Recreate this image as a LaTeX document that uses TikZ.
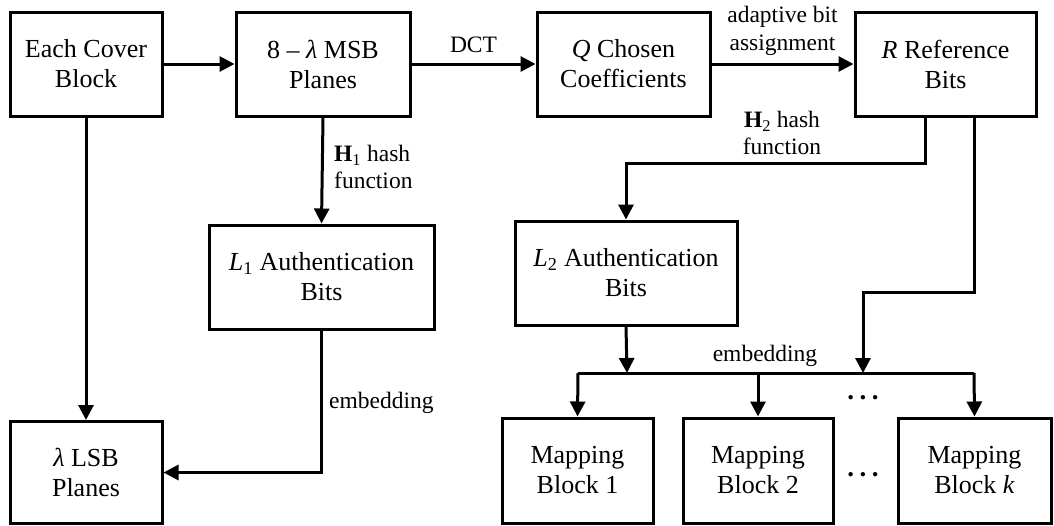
\documentclass[tikz,border=0pt]{standalone}
\usepackage{fontspec}
\setmainfont{Liberation Serif}
\usetikzlibrary{arrows.meta}
\tikzset{
  blk/.style={draw, line width=3pt, align=center, inner sep=0pt,
    font=\fontsize{26}{30}\selectfont},
  lbl/.style={font=\fontsize{23.5}{27.5}\selectfont, inner sep=0pt},
  flow/.style={line width=3pt, -{Triangle[length=15pt,width=15pt]}},
  wire/.style={line width=3pt},
  dotrow/.style={font=\fontsize{27}{30}\selectfont\bfseries, inner sep=0pt, anchor=base},
}
\newcommand{\spreaddots}{.\kern5.5pt.\kern5.5pt.}
\begin{document}
\begin{tikzpicture}[x=1pt,y=-1pt]
\useasboundingbox (0,0) rectangle (1054,525);

% top row
\node[blk, minimum width=152pt, minimum height=104pt] (cover) at (86,64) {Each Cover\\Block};
\node[blk, minimum width=174pt, minimum height=104pt] (msb) at (323,64) {8 – \textit{λ} MSB\\Planes};
\node[blk, minimum width=173pt, minimum height=104pt] (coef) at (623.5,64) {\textit{Q} Chosen\\Coefficients};
\node[blk, minimum width=181pt, minimum height=104pt] (ref) at (945.5,64) {\textit{R} Reference\\Bits};

% middle row
\node[blk, minimum width=225pt, minimum height=104pt] (auth1) at (321.5,277) {\textit{L}\textsubscript{1} Authentication\\Bits};
\node[blk, minimum width=222pt, minimum height=104pt] (auth2) at (626,273) {\textit{L}\textsubscript{2} Authentication\\Bits};

% bottom row
\node[blk, minimum width=152pt, minimum height=102pt] (lsb) at (86,472.5) {\textit{λ} LSB\\Planes};
\node[blk, minimum width=151pt, minimum height=105pt] (map1) at (577.5,470.5) {Mapping\\Block 1};
\node[blk, minimum width=150pt, minimum height=105pt] (map2) at (758,470.5) {Mapping\\Block 2};
\node[blk, minimum width=153pt, minimum height=105pt] (mapk) at (974.5,470.5) {Mapping\\Block \textit{k}};

% horizontal chain
\draw[flow] (cover.east) -- (msb.west);
\draw[flow] (msb.east) -- node[lbl, above=10pt] (dct) {DCT} (coef.west);
\draw[flow] (coef.east) -- node[lbl, above=7pt, align=center] (aba) {adaptive bit\\assignment} (ref.west);

% hash H1 and LSB embedding
\draw[flow] (msb.south) -- (auth1.north);
\node[lbl, align=left, anchor=west] (h1) at (334,167) {\textbf{H}\textsubscript{1} hash\\function};
\draw[flow] (cover.south) -- (lsb.north);
\draw[flow] (auth1.south) |- (lsb.east);
\node[lbl, anchor=west] (emb1) at (329,403) {embedding};

% hash H2
\coordinate (r1) at (925,116);
\coordinate (r1b) at (925,163);
\draw[flow] (r1) -- (r1b) -| (auth2.north);
\node[lbl, align=center] (h2) at (782,133) {\textbf{H}\textsubscript{2} hash\\function};

% embedding bus
\coordinate (busL) at (578,373);
\coordinate (busR) at (974,373);
\coordinate (busA) at (627,373);
\coordinate (busB) at (863,373);
\coordinate (r2) at (974,116);
\coordinate (r2b) at (974,292);
\coordinate (r2c) at (863,292);
\draw[flow] (auth2.south) -- (busA);
\draw[flow] (r2) -- (r2b) -- (r2c) -- (busB);
\draw[wire] (busL) -- (busR);
\draw[flow] (busL) -- (map1.north);
\draw[flow] (map2.north |- busL) -- (map2.north);
\draw[flow] (busR) -- (mapk.north);
\node[lbl] (emb2) at (765,356) {embedding};

% ellipses
\node[dotrow] (dotsA) at (863,399) {\spreaddots};
\node[dotrow] (dotsB) at (863,476) {\spreaddots};
\end{tikzpicture}
\end{document}
